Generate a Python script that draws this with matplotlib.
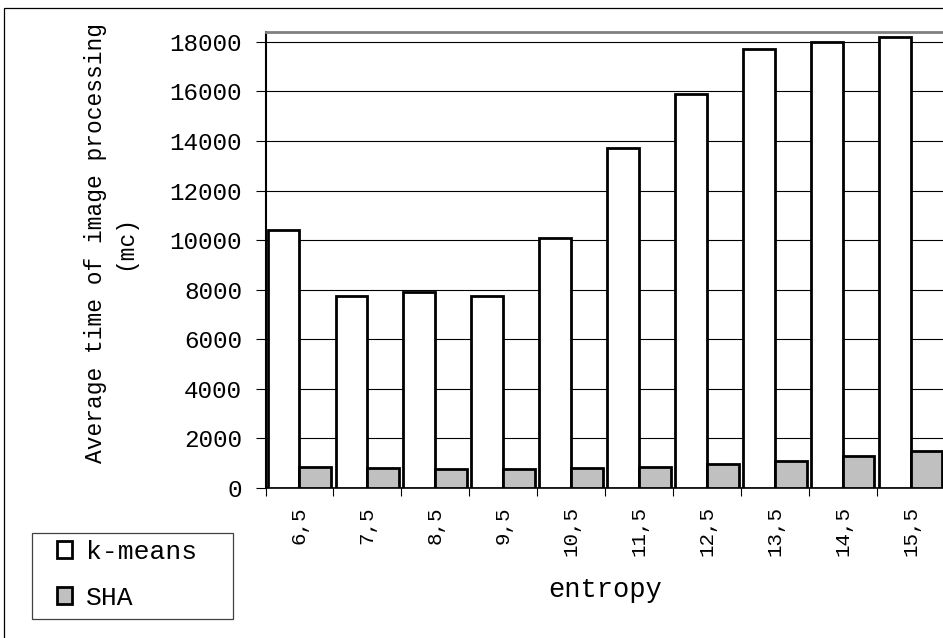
import matplotlib
matplotlib.use("Agg")
import matplotlib.pyplot as plt
import numpy as np
from matplotlib.patches import Patch, Rectangle

categories = ["6,5", "7,5", "8,5", "9,5", "10,5", "11,5", "12,5", "13,5", "14,5", "15,5"]
kmeans = [10400, 7750, 7900, 7750, 10100, 13700, 15900, 17700, 18000, 18200]
sha = [860, 820, 780, 760, 810, 840, 960, 1080, 1280, 1490]
yticks = [0, 2000, 4000, 6000, 8000, 10000, 12000, 14000, 16000, 18000]

plt.rcParams['font.family'] = ['Liberation Mono', 'DejaVu Sans Mono']

W, H = 943, 638
fig = plt.figure(figsize=(W / 100, H / 100), dpi=100)
fig.patch.set_facecolor('white')

ax = fig.add_axes([265.5 / W, 1 - 488 / H, (944.5 - 265.5) / W, (488 - 32) / H])

x = np.arange(len(categories))
bw = 0.468
ax.bar(x - 0.234, kmeans, width=bw, color='white', edgecolor='black', linewidth=2.0, zorder=3)
ax.bar(x + 0.234, sha, width=bw, color='#C0C0C0', edgecolor='black', linewidth=2.0, zorder=3)

ax.set_xlim(-0.5, len(categories) - 0.5)
ax.set_ylim(0, 18400)

ax.set_yticks(yticks)
ax.set_yticklabels([str(v) for v in yticks])
ax.yaxis.grid(True, color='black', linewidth=0.8, zorder=0)
ax.set_axisbelow(True)

ax.set_xticks(x)
ax.set_xticklabels(categories, rotation=90, fontsize=15)
ax.set_xticks(np.arange(len(categories) + 1) - 0.5, minor=True)
ax.tick_params(axis='x', which='major', length=0, pad=13)
ax.tick_params(axis='x', which='minor', length=6, width=0.8, direction='out', color='black')
ax.tick_params(axis='y', which='major', length=7, width=0.8, pad=10, labelsize=17.5, direction='out')

for s in ['right']:
    ax.spines[s].set_visible(False)
ax.spines['top'].set_color('#808080')
ax.spines['top'].set_linewidth(2.0)
ax.spines['left'].set_color('black')
ax.spines['left'].set_linewidth(1.5)
ax.spines['bottom'].set_color('black')
ax.spines['bottom'].set_linewidth(1.2)

ax.set_ylabel("Average time of image processing\n(mc)", fontsize=16.5, linespacing=1.35)
ax.yaxis.label.set_va('center')
ax.yaxis.set_label_coords((110 - 265.5) / (944.5 - 265.5), (488 - 243) / (488 - 32))

ax.set_xlabel("entropy", fontsize=19.5)
ax.xaxis.label.set_va('center')
ax.xaxis.set_label_coords(0.5, (488 - 590) / (488 - 32))

# outer chart border
fig.patches.append(Rectangle((4 / W, -0.1), 1.2, 1 - 8 / H + 0.1, transform=fig.transFigure,
                             fill=False, edgecolor='black', linewidth=0.9, clip_on=False))
# legend box
fig.patches.append(Rectangle((32 / W, 1 - 619 / H), (233 - 32) / W, (619 - 533) / H,
                             transform=fig.transFigure, fill=False, edgecolor='#404040',
                             linewidth=0.9))

handles = [Patch(facecolor='white', edgecolor='black', linewidth=2.0),
           Patch(facecolor='#C0C0C0', edgecolor='black', linewidth=2.0)]
fig.legend(handles, ["k-means", "SHA"], loc='upper left',
           bbox_to_anchor=(57 / W, 1 - 540 / H), frameon=False, borderpad=0,
           borderaxespad=0, fontsize=19, handlelength=0.55, handleheight=0.62,
           handletextpad=0.55, labelspacing=0.83)

fig.savefig("out.png", dpi=100, facecolor='white')
